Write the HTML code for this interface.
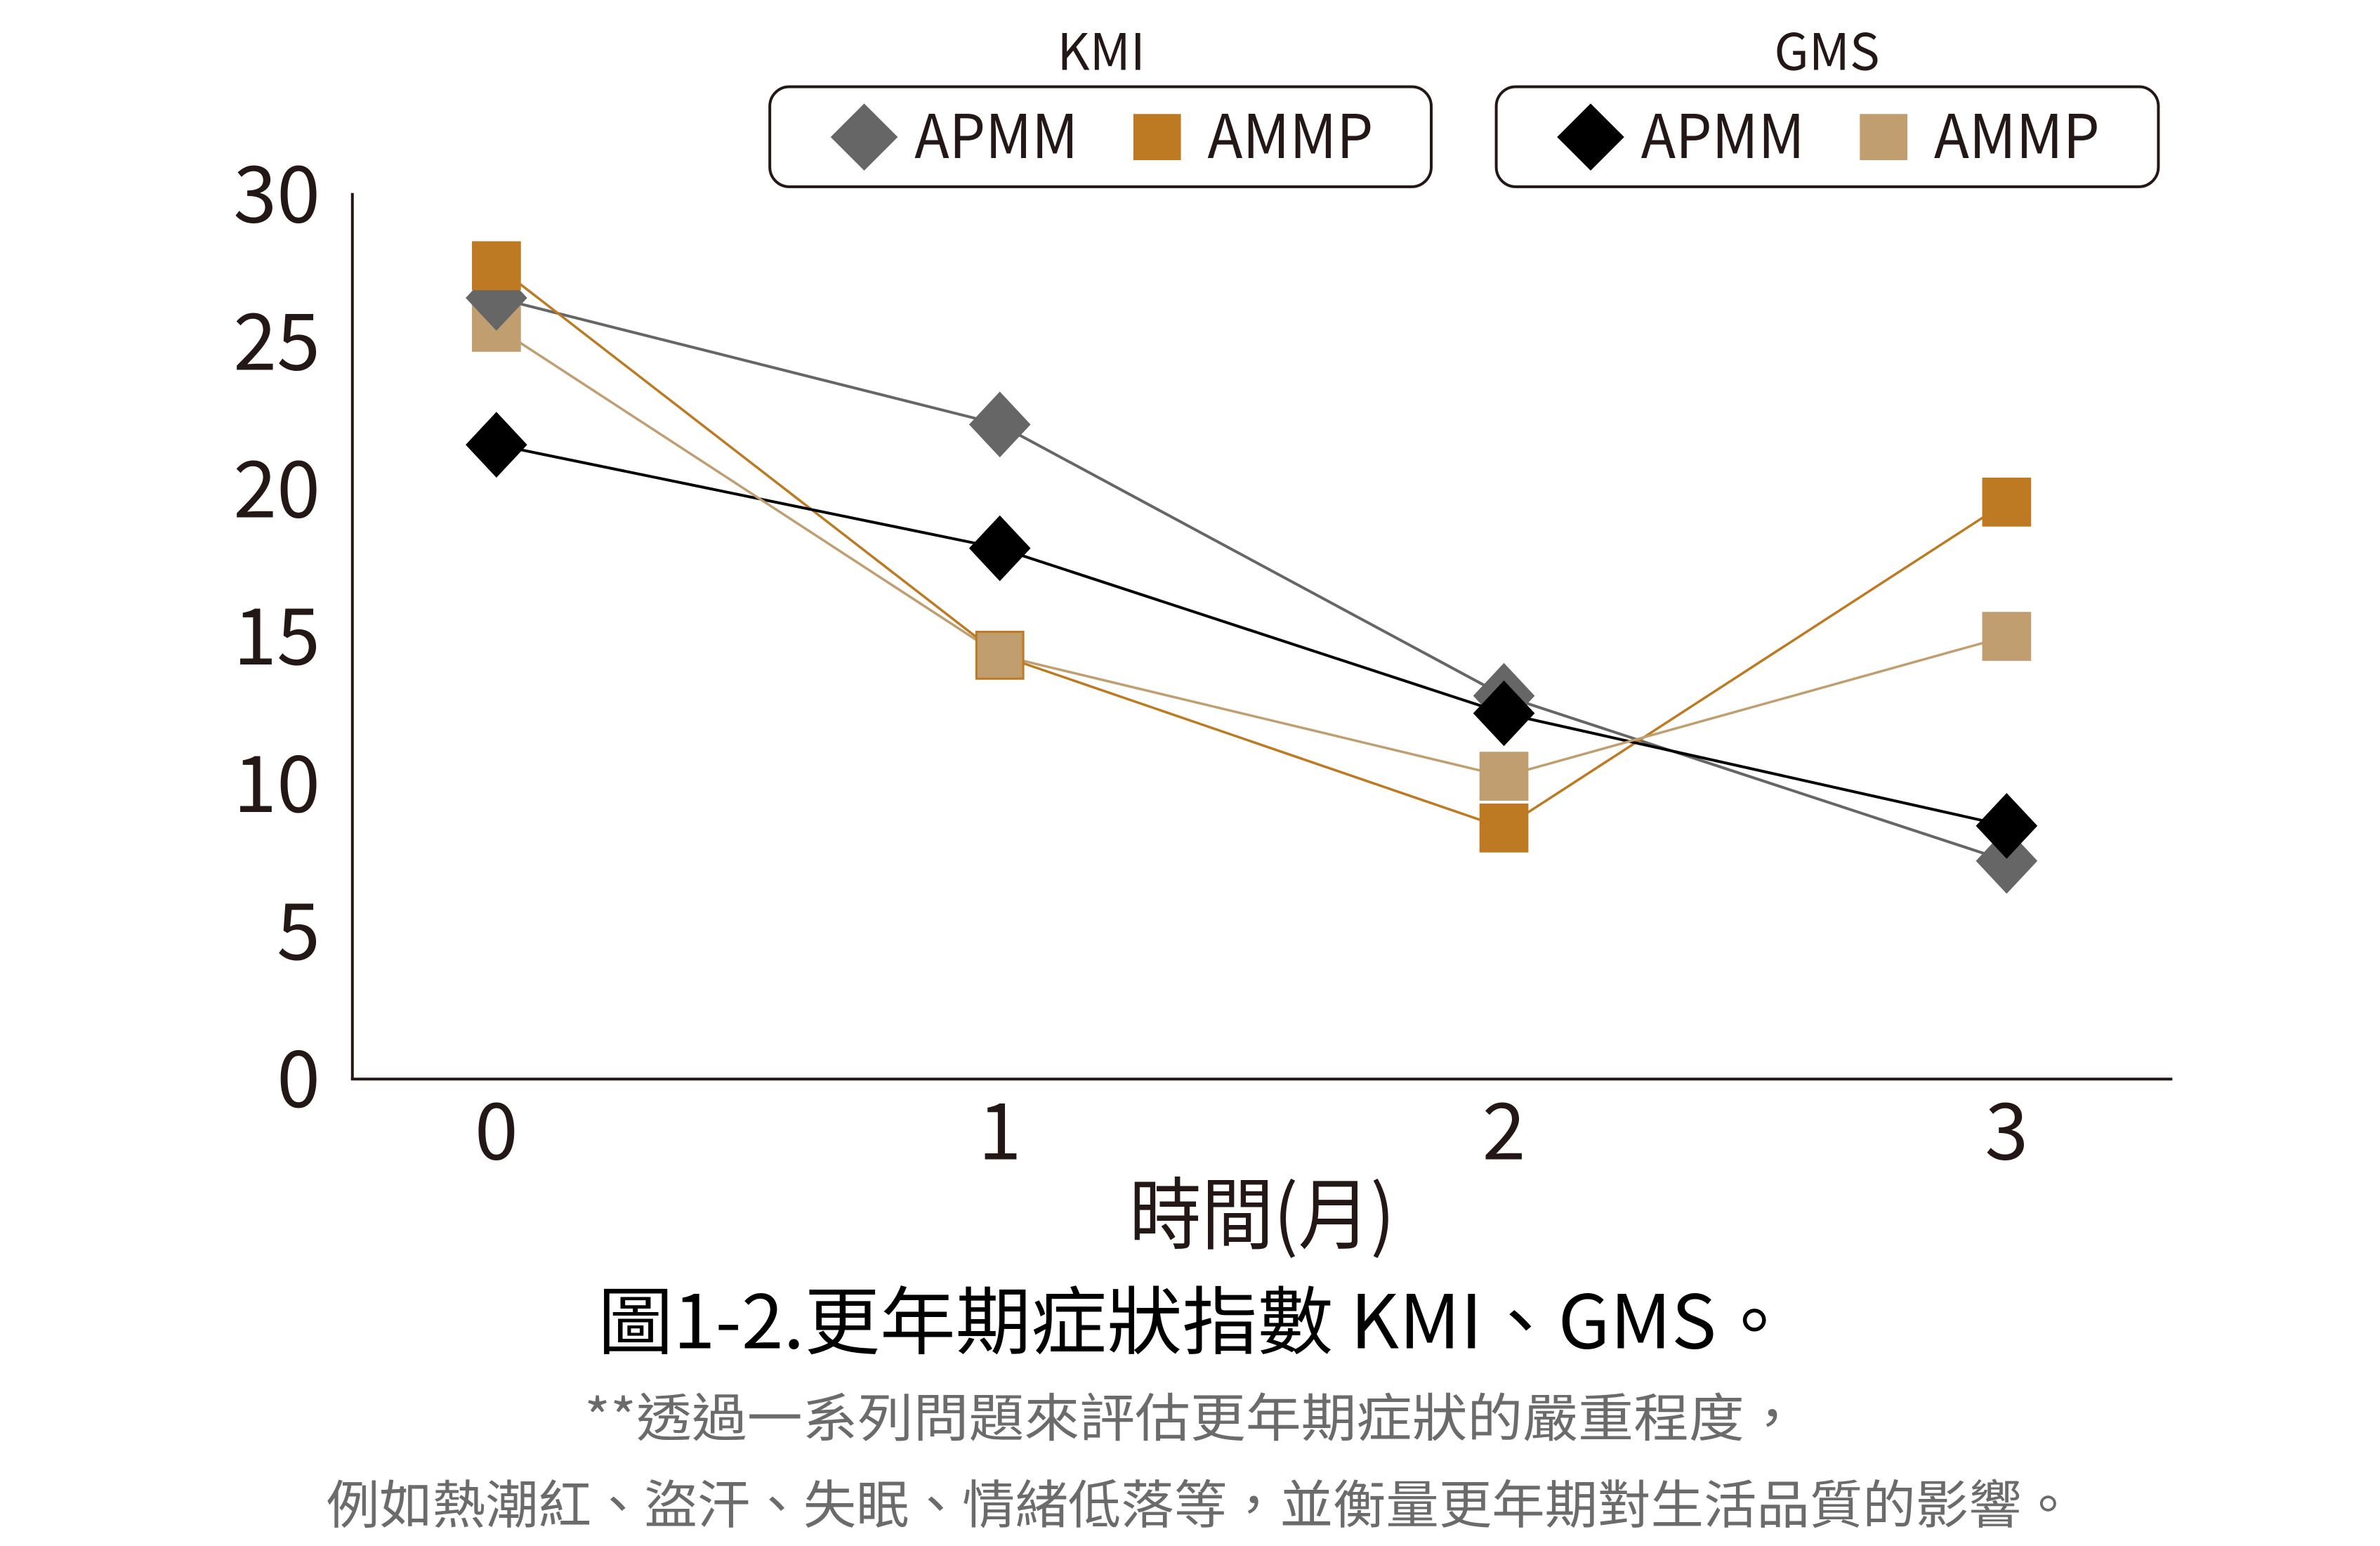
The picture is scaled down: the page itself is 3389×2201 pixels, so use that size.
<!DOCTYPE html>
<html><head><meta charset="utf-8"><style>html,body{margin:0;padding:0;background:#fff}svg{display:block}</style></head>
<body>
<svg width="3389" height="2201" viewBox="0 0 3389 2201" xmlns="http://www.w3.org/2000/svg" font-family="'Noto Sans CJK TC','Liberation Sans',sans-serif">
<rect width="3389" height="2201" fill="#fff"/>
<g transform="scale(0.9956)">
<!-- axes -->
<line x1="504" y1="276" x2="504" y2="1544" stroke="#231815" stroke-width="4"/>
<line x1="502" y1="1543" x2="3107" y2="1543" stroke="#231815" stroke-width="4"/>
<g fill="#231815" font-size="112" text-anchor="end">
<text x="458" y="318">30</text><text x="458" y="529">25</text><text x="458" y="740">20</text>
<text x="458" y="950">15</text><text x="458" y="1161">10</text><text x="458" y="1372">5</text><text x="458" y="1583">0</text>
</g>
<g fill="#231815" font-size="112" text-anchor="middle">
<text x="710" y="1658">0</text><text x="1430" y="1658">1</text><text x="2151" y="1658">2</text><text x="2870" y="1658">3</text>
<text x="1805" y="1777" textLength="380" lengthAdjust="spacingAndGlyphs">時間(月)</text>
</g>
<!-- series lines -->
<polyline fill="none" stroke="#666" stroke-width="4" points="710,426 1430,607 2151,995 2870,1231"/>
<polyline fill="none" stroke="#BD7A22" stroke-width="3.5" points="710,380 1430,937 2151,1184 2870,718"/>
<polyline fill="none" stroke="#000" stroke-width="4" points="710,636 1430,784 2151,1020 2870,1181"/>
<polyline fill="none" stroke="#C09E70" stroke-width="3.5" points="710,468 1430,937 2151,1110 2870,910"/>
<!-- markers -->
<g fill="#C09E70"><rect x="675" y="433" width="70" height="70"/><rect x="2116" y="1075" width="70" height="70"/><rect x="2835" y="875" width="70" height="70"/></g>
<g fill="#666"><path d="M710,379 l44,47 -44,47 -44,-47z"/><path d="M1430,560 l44,47 -44,47 -44,-47z"/><path d="M2151,948 l44,47 -44,47 -44,-47z"/><path d="M2870,1184 l44,47 -44,47 -44,-47z"/></g>
<g fill="#BD7A22"><rect x="675" y="345" width="70" height="70"/><rect x="1395" y="902" width="70" height="70"/><rect x="2116" y="1149" width="70" height="70"/><rect x="2835" y="683" width="70" height="70"/></g>
<rect x="1398" y="905" width="64" height="64" fill="#C09E70"/>
<g fill="#000"><path d="M710,589 l44,47 -44,47 -44,-47z"/><path d="M1430,737 l44,47 -44,47 -44,-47z"/><path d="M2151,973 l44,47 -44,47 -44,-47z"/><path d="M2870,1134 l44,47 -44,47 -44,-47z"/></g>
<!-- legends -->
<g fill="#231815" font-size="72" text-anchor="middle">
<text x="1575" y="100">KMI</text><text x="2613" y="100">GMS</text>
</g>
<rect x="1101" y="124" width="946" height="143" rx="28" fill="none" stroke="#231815" stroke-width="4"/>
<rect x="2140" y="124" width="947" height="143" rx="28" fill="none" stroke="#231815" stroke-width="4"/>
<path d="M1236,148 l48,48 -48,48 -48,-48z" fill="#666"/>
<rect x="1621" y="163" width="68" height="66" fill="#BD7A22"/>
<path d="M2275,148 l48,48 -48,48 -48,-48z" fill="#000"/>
<rect x="2660" y="163" width="68" height="66" fill="#C09E70"/>
<g fill="#231815" font-size="86">
<text x="1308" y="226" textLength="234" lengthAdjust="spacingAndGlyphs">APMM</text>
<text x="1727" y="226" textLength="237" lengthAdjust="spacingAndGlyphs">AMMP</text>
<text x="2347" y="226" textLength="234" lengthAdjust="spacingAndGlyphs">APMM</text>
<text x="2766" y="226" textLength="237" lengthAdjust="spacingAndGlyphs">AMMP</text>
</g>
<!-- captions -->
<text x="855" y="1928" font-size="106" fill="#000" textLength="1708" lengthAdjust="spacingAndGlyphs">圖1-2.更年期症狀指數 KMI、GMS。</text>
<g fill="#6b6b6b" font-size="74">
<text x="836" y="2054" textLength="1738" lengthAdjust="spacingAndGlyphs">**透過一系列問題來評估更年期症狀的嚴重程度，</text>
<text x="467" y="2178" textLength="2500" lengthAdjust="spacingAndGlyphs">例如熱潮紅、盜汗、失眠、情緒低落等，並衡量更年期對生活品質的影響。</text>
</g>
</g>
</svg>
</body></html>
